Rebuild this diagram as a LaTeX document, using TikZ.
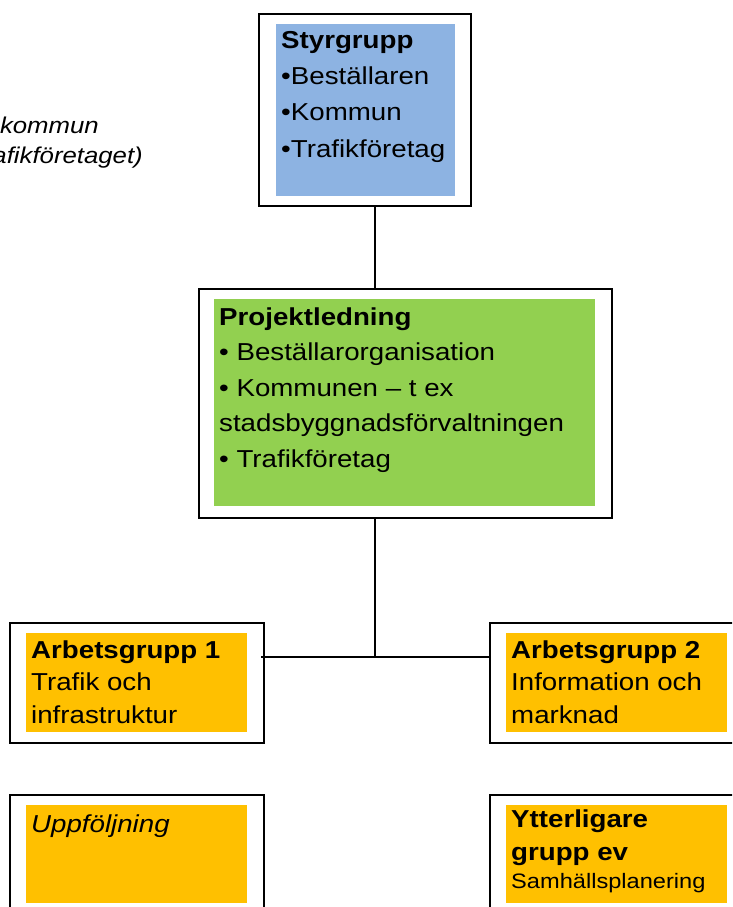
\documentclass[tikz,border=0pt]{standalone}
\usepackage{fontspec}
\setmainfont{Liberation Sans}[FakeStretch=1.13]
\newlength{\du}
\setlength{\du}{1pt}
\definecolor{styrblue}{rgb}{0.553, 0.702, 0.886}
\definecolor{ledngreen}{rgb}{0.573, 0.816, 0.314}
\definecolor{grporange}{rgb}{1.000, 0.753, 0.000}
\tikzset{
  orgbox/.style={draw=black, line width=2\du, inner sep=0pt, anchor=north west},
  panel/.style={inner sep=0pt, anchor=north west},
  link/.style={draw=black, line width=2\du},
  note/.style={inner sep=0pt, anchor=base east, font={\fontsize{22.8}{30}\selectfont\itshape}}
}
% width, height, first baseline, size, skip, text
\newcommand{\paneltext}[6]{\parbox[t][#2\du][t]{#1\du}{\fontsize{#4}{#5}\selectfont\raggedright\leftskip=5\du\rule{0pt}{#3\du}#6}}

\begin{document}
\begin{tikzpicture}
\pgftransformxscale{1.000000}
\pgftransformyscale{-1.000000}
\useasboundingbox (0\du,0\du) rectangle (732\du,907\du);
\clip (0\du,0\du) rectangle (732\du,907\du);
% outer frames
\node[orgbox, minimum width=212\du, minimum height=192\du] (styr) at (258\du,13\du) {};
\node[orgbox, minimum width=413\du, minimum height=229\du] (ledn) at (198\du,288\du) {};
\node[orgbox, minimum width=254\du, minimum height=120\du] (arb1) at (9\du,622\du) {};
\node[orgbox, minimum width=255\du, minimum height=120\du] (arb2) at (489\du,622\du) {};
\node[orgbox, minimum width=254\du, minimum height=130\du] (uppf) at (9\du,794\du) {};
\node[orgbox, minimum width=255\du, minimum height=130\du] (ytter) at (489\du,794\du) {};
% coloured panels
\node[panel, fill=styrblue] (styrpanel) at (276\du,24\du) {\paneltext{179}{172}{24}{24.5}{36.3}{\textbf{Styrgrupp}\\•Beställaren\\•Kommun\\•Trafikföretag}};
\node[panel, fill=ledngreen] (lednpanel) at (214\du,299\du) {\paneltext{381}{207}{26}{24.5}{35.5}{\textbf{Projektledning}\\• Beställarorganisation\\• Kommunen – t ex\\stadsbyggnadsförvaltningen\\• Trafikföretag}};
\node[panel, fill=grporange] (arb1panel) at (26\du,633\du) {\paneltext{221}{99}{25}{24.5}{32.5}{\textbf{Arbetsgrupp 1}\\Trafik och\\infrastruktur}};
\node[panel, fill=grporange] (arb2panel) at (506\du,633\du) {\paneltext{221}{99}{25}{24.5}{32.5}{\textbf{Arbetsgrupp 2}\\Information och\\marknad}};
\node[panel, fill=grporange] (uppfpanel) at (26\du,805\du) {\paneltext{221}{98}{27}{24.5}{32.5}{\textit{Uppföljning}}};
\node[panel, fill=grporange] (ytterpanel) at (506\du,805\du) {\paneltext{221}{98}{22}{24.5}{33}{\textbf{Ytterligare}\\\textbf{grupp ev}\\[-5\du]{\fontsize{20.9}{28}\selectfont Samhällsplanering}}};
% connectors
\coordinate (hub) at (375\du,657\du);
\draw[link] (hub |- styr.south) -- (hub |- ledn.north);
\draw[link] (hub |- ledn.south) -- (hub);
\draw[link] (arb2.west |- hub) -- (arb1.east |- hub) -- ++(-4\du,0\du);
% side note
\node[note] (notekommun) at (99\du,133\du) {kommun};
\node[note] (noteforetag) at (143\du,163\du) {afikföretaget)};
\end{tikzpicture}
\end{document}
